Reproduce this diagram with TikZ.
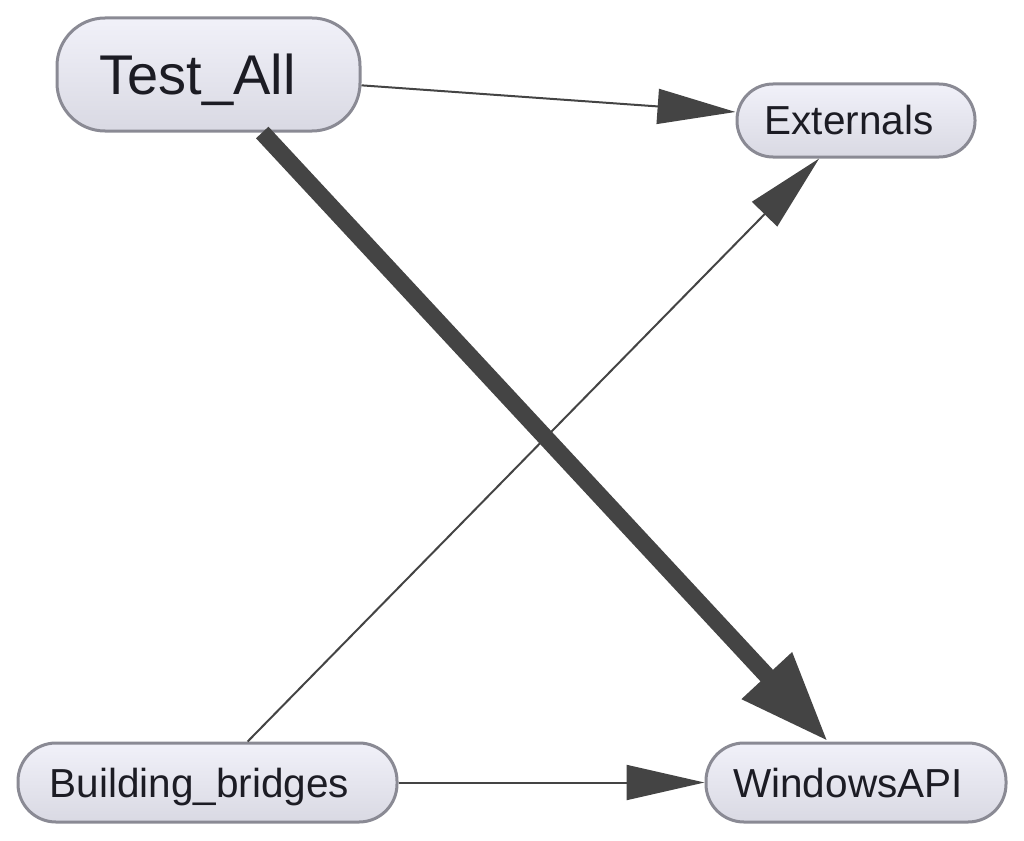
\documentclass[tikz,border=0pt]{standalone}
\usepackage{fontspec}
\setmainfont{Liberation Sans}
\usetikzlibrary{arrows.meta}
\definecolor{boxtop}{HTML}{F1F1F9}
\definecolor{boxbot}{HTML}{D9D9E3}
\definecolor{boxborder}{HTML}{8A8A94}
\definecolor{edgecol}{HTML}{444444}
\definecolor{textcol}{HTML}{1C1C24}
\begin{document}
\begin{tikzpicture}[x=1pt,y=-1pt,
  box/.style={draw=boxborder, line width=3pt, top color=boxtop, bottom color=boxbot,
    inner sep=0pt, text=textcol, text depth=0pt},
  smallbox/.style={box, minimum height=79pt, rounded corners=38pt,
    font=\fontsize{40.5}{44}\selectfont, text height=29pt},
  thin/.style={draw=edgecol, line width=2pt, -{Triangle[length=78pt,width=35pt]}, fill=edgecol},
  thick/.style={draw=edgecol, line width=17pt, -{Triangle[length=90pt,width=64pt]}}]
\useasboundingbox (0,0) rectangle (1024,840);
\node[box, minimum width=303pt, minimum height=113pt, rounded corners=48pt,
  font=\fontsize{56}{60}\selectfont, text height=40pt] (test) at (208.5,74.5) {Test\_All\kern22pt};
\node[smallbox, minimum width=238pt, minimum height=73pt, rounded corners=36pt] (ext) at (856,120.5) {Externals\kern14pt};
\node[smallbox, minimum width=379pt] (bb) at (207.5,782.5) {Building\_bridges\kern16pt};
\node[smallbox, minimum width=300pt] (win) at (856,782.5) {WindowsAPI\kern16pt};
\draw[thin] (test) -- (ext);
\draw[thin] (bb) -- (ext);
\draw[thin] (bb) -- (win);
\draw[thick] (test) -- ([xshift=-28pt]win.north);
\end{tikzpicture}
\end{document}
